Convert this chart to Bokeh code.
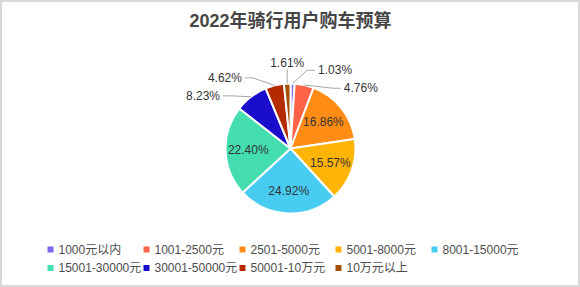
import numpy as np
from bokeh.plotting import figure
from bokeh.models import Range1d, ColumnDataSource
from bokeh.embed import file_html
from bokeh.resources import INLINE
from bokeh.core.properties import value

# ---------------- data ----------------
title_text = "2022年骑行用户购车预算"
categories = ["1000元以内", "1001-2500元", "2501-5000元", "5001-8000元", "8001-15000元",
              "15001-30000元", "30001-50000元", "50001-10万元", "10万元以上"]
shares = [1.03, 4.76, 16.86, 15.57, 24.92, 22.40, 8.23, 4.62, 1.61]
colors = ["#7B68EE", "#FF6347", "#FF8C14", "#FFB406", "#48CCF2",
          "#44DDB0", "#1A0DCC", "#B52B00", "#A05000"]

# ---------------- layout ----------------
W, H = 580, 287
CX, CY = 290, H - 148          # pie centre (data units == pixels, y up)
RAD = 65                       # pie radius
INNER_R = 0.65 * RAD           # inside label radius
L1, L2 = 15, 8                 # leader line lengths
GAP_DEG = 20                   # min angular gap between outside labels
MIN_DY = 18                    # min vertical gap between outside labels on a side
INSIDE_MIN = 10                # share (%) at or above which label is inside

LABEL_FONT = value("Liberation Sans")
MIX_FONT = value("Liberation Sans, Noto Sans CJK SC")

p = figure(width=W, height=H, x_range=Range1d(0, W), y_range=Range1d(0, H),
           output_backend="svg", toolbar_location=None, min_border=0)
p.axis.visible = False
p.grid.visible = False
p.background_fill_color = "white"
p.border_fill_color = "white"
p.outline_line_color = "#D9D9D9"
p.outline_line_width = 3

# ---------------- wedges ----------------
vals = np.array(shares, dtype=float)
fr = vals / vals.sum()
cum = np.concatenate([[0.0], np.cumsum(fr)])
start = np.pi / 2 - 2 * np.pi * cum[:-1]
end = np.pi / 2 - 2 * np.pi * cum[1:]
mid_cw = 360.0 * (cum[:-1] + cum[1:]) / 2.0   # degrees clockwise from top

src = ColumnDataSource(dict(start=start, end=end, color=colors, cat=categories))
p.wedge(x=CX, y=CY, radius=RAD, start_angle="start", end_angle="end",
        direction="clock", fill_color="color", line_color="white", line_width=2,
        source=src)

pct = ["%.2f%%" % v for v in shares]

# ---------------- inside labels ----------------
ins = [i for i, v in enumerate(shares) if v >= INSIDE_MIN]
th = np.radians(mid_cw[ins])
p.text(x=CX + INNER_R * np.sin(th), y=CY + INNER_R * np.cos(th),
       text=[pct[i] for i in ins], text_align="center", text_baseline="middle",
       text_font=LABEL_FONT, text_font_size="12px", text_color="#333333")

# ---------------- outside labels (spread to avoid overlap) ----------------
outs = [i for i, v in enumerate(shares) if v < INSIDE_MIN]
sang = {i: (mid_cw[i] - 360 if mid_cw[i] > 180 else mid_cw[i]) for i in outs}
order = sorted(outs, key=lambda i: sang[i])


def block_pos(b):
    m = np.mean([sang[j] for j in b])
    n = len(b)
    return [m + (k - (n - 1) / 2.0) * GAP_DEG for k in range(n)]


blocks = []
for i in order:
    blocks.append([i])
    while len(blocks) > 1:
        b1, b2 = blocks[-2], blocks[-1]
        if block_pos(b2)[0] - block_pos(b1)[-1] < GAP_DEG:
            blocks[-2:] = [b1 + b2]
        else:
            break
spread = {}
for b in blocks:
    for j, a in zip(b, block_pos(b)):
        spread[j] = a

RL = RAD + L1
elbow = {}
for i in outs:
    ts = np.radians(spread[i])
    elbow[i] = [CX + RL * np.sin(ts), CY + RL * np.cos(ts)]

# vertical push-down per side (top-centred labels excluded)
for side in (1, -1):
    members = [i for i in outs if abs(spread[i]) >= GAP_DEG / 2
               and np.sign(np.sin(np.radians(spread[i]))) == side]
    members.sort(key=lambda i: -elbow[i][1])
    for a, b in zip(members[:-1], members[1:]):
        if elbow[a][1] - elbow[b][1] < MIN_DY:
            elbow[b][1] = elbow[a][1] - MIN_DY

lx, ly, ltxt, lalign = [], [], [], []
xs, ys = [], []
for i in outs:
    t0 = np.radians(mid_cw[i])
    ex, ey = CX + RAD * np.sin(t0), CY + RAD * np.cos(t0)
    kx, ky = elbow[i]
    if abs(spread[i]) < GAP_DEG / 2:
        # near the top: vertical leader, text centred above
        xs.append([ex, ex])
        ys.append([ey, ky])
        lx.append(ex); ly.append(ky + 6); lalign.append("center")
    else:
        d = 1 if kx >= CX else -1
        fx = kx + d * L2
        xs.append([ex, kx, fx])
        ys.append([ey, ky, ky])
        lx.append(fx + d * 3); ly.append(ky)
        lalign.append("left" if d > 0 else "right")
    ltxt.append(pct[i])

p.multi_line(xs=xs, ys=ys, line_color="#A6A6A6", line_width=1)
p.text(x=lx, y=ly, text=ltxt, text_align=lalign, text_baseline="middle",
       text_font=LABEL_FONT, text_font_size="12px", text_color="#333333")

# ---------------- title ----------------
p.text(x=[W / 2], y=[H - 20], text=[title_text], text_align="center",
       text_baseline="middle", text_font=MIX_FONT, text_font_style="bold",
       text_font_size="18px", text_color="#464646")

# ---------------- legend ----------------
NCOL = 5
COL_W = 96
LX0, LY0, ROW_H = 50, H - 249, 18.5
idx = np.arange(len(categories))
mx = LX0 + (idx % NCOL) * COL_W
my = LY0 - (idx // NCOL) * ROW_H
p.rect(x=mx, y=my, width=6, height=6, fill_color=colors, line_color=None)
p.text(x=mx + 8, y=my, text=categories, text_align="left", text_baseline="middle",
       text_font=MIX_FONT, text_font_size="12px", text_color="#4D4D4D")

open("out.html", "w").write(file_html(p, INLINE))
